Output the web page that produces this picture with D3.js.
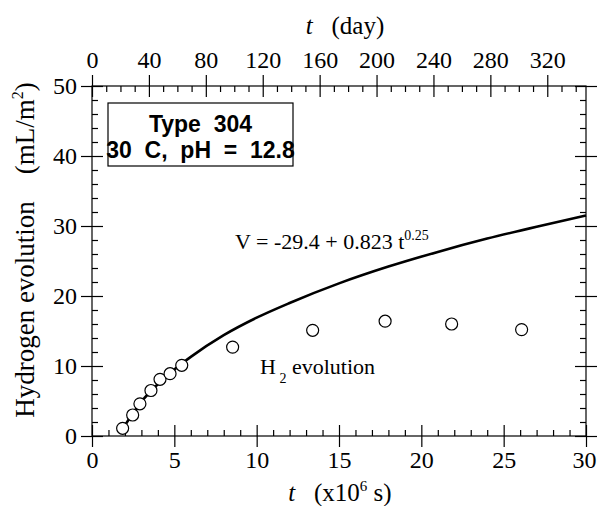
<!DOCTYPE html>
<html>
<head>
<meta charset="utf-8">
<script src="https://cdn.jsdelivr.net/npm/d3@7"></script>
<style>
  body { margin: 0; background: #fff; }
  #wrapper text { font-family: "Liberation Serif", "Times New Roman", serif; fill: #000; }
  .tick text { font-size: 24px; }
  .box-text { font-family: "Liberation Sans", Arial, sans-serif !important; font-weight: bold; font-size: 23px; }
</style>
</head>
<body>
<div id="wrapper"></div>
<script>
// measured points, time in 10^6 s
const timeData = [1.86, 2.47, 2.91, 3.58, 4.13, 4.74, 5.45, 8.54, 13.4, 17.8, 21.84, 26.09]
const h2Data = [1.1, 3.0, 4.6, 6.5, 8.1, 8.9, 10.1, 12.7, 15.1, 16.4, 16.0, 15.2]

// fitted curve
const fitTime = [1.8, 2.5, 3, 4, 5, 6, 8, 10, 12, 15, 18, 21, 24, 27, 30]
const fitV = [0.8, 3.3, 4.9, 7.4, 9.5, 11.3, 14.4, 16.9, 19.0, 21.8, 24.2, 26.3, 28.2, 29.9, 31.5]

// ticks
const xTicks = [0, 5, 10, 15, 20, 25, 30]
const dayTicks = [0, 40, 80, 120, 160, 200, 240, 280, 320]
const yTicks = [0, 10, 20, 30, 40, 50]

function drawChart() {

  // 1. dimensions
  let dimensions = {
    width: 597,
    height: 506,
    margin: { top: 86, right: 11, bottom: 70, left: 92 },
  }
  dimensions.boundedWidth = dimensions.width - dimensions.margin.left - dimensions.margin.right
  dimensions.boundedHeight = dimensions.height - dimensions.margin.top - dimensions.margin.bottom

  const wrapper = d3.select("#wrapper")
    .append("svg")
      .attr("width", dimensions.width)
      .attr("height", dimensions.height)

  const bounds = wrapper.append("g")
      .attr("transform", `translate(${dimensions.margin.left},${dimensions.margin.top})`)

  // 2. scales
  const xScale = d3.scaleLinear()
    .domain([0, 30])
    .range([0, dimensions.boundedWidth])
  const dayScale = d3.scaleLinear()
    .domain([0, 30e6 / 86400])
    .range([0, dimensions.boundedWidth])
  const yScale = d3.scaleLinear()
    .domain([0, 50])
    .range([dimensions.boundedHeight, 0])

  const xMinor = d3.range(0, 31, 1).filter(v => v % 5 != 0)
  const dayMinor = d3.range(0, 347, 10).filter(v => v % 40 != 0)
  const yMinor = d3.range(0, 51, 2).filter(v => v % 10 != 0)

  const major = 11, minor = 6

  // 3. axes (major ticks cross the frame, minor ticks inside)
  const addAxis = (gen, scale, ticks, minorTicks, transform, labels, pad) => {
    const out = bounds.append("g").attr("transform", transform)
      .call(gen(scale).tickValues(ticks).tickSize(major).tickPadding(pad)
        .tickFormat(labels ? d3.format("d") : ""))
    out.select(".domain").remove()
    const inn = bounds.append("g").attr("transform", transform)
      .call(gen(scale).tickValues(ticks).tickSize(-major).tickFormat(""))
    inn.select(".domain").remove()
    const mn = bounds.append("g").attr("transform", transform)
      .call(gen(scale).tickValues(minorTicks).tickSize(-minor).tickFormat(""))
    mn.select(".domain").remove()
    return out
  }
  const xAxis = addAxis(d3.axisBottom, xScale, xTicks, xMinor, `translate(0,${dimensions.boundedHeight})`, true, 4)
  addAxis(d3.axisTop, dayScale, dayTicks, dayMinor, "translate(0,0)", true, 7)
  addAxis(d3.axisLeft, yScale, yTicks, yMinor, "translate(0,0)", true, 4)
  addAxis(d3.axisRight, yScale, yTicks, yMinor, `translate(${dimensions.boundedWidth},0)`, false, 4)

  // keep the last label inside the page
  xAxis.selectAll(".tick text").filter(d => d == 30).attr("dx", -2)

  bounds.selectAll(".tick line").attr("stroke", "#000").attr("stroke-width", 1.2)

  bounds.append("rect")
      .attr("width", dimensions.boundedWidth)
      .attr("height", dimensions.boundedHeight)
      .attr("fill", "none")
      .attr("stroke", "#000")
      .attr("stroke-width", 1.2)

  // 4. fitted line and points
  const lineGen = d3.line()
    .x((d, i) => xScale(fitTime[i]))
    .y(d => yScale(d))
    .curve(d3.curveMonotoneX)

  bounds.append("path")
      .attr("d", lineGen(fitV))
      .attr("fill", "none")
      .attr("stroke", "#000")
      .attr("stroke-width", 2.6)

  bounds.selectAll("circle")
    .data(h2Data)
    .enter().append("circle")
      .attr("cx", (d, i) => xScale(timeData[i]))
      .attr("cy", d => yScale(d))
      .attr("r", 6)
      .attr("fill", "#fff")
      .attr("stroke", "#000")
      .attr("stroke-width", 1.2)

  // 5. labels
  const eq = wrapper.append("text")
      .attr("x", 235).attr("y", 249)
      .style("font-size", "22px")
  eq.append("tspan").text("V = -29.4 + 0.823 t")
  eq.append("tspan").attr("dy", -9).style("font-size", "14px").text("0.25")

  const h2 = wrapper.append("text")
      .attr("x", 260).attr("y", 374)
      .style("font-size", "22px")
  h2.append("tspan").text("H")
  h2.append("tspan").attr("dy", 9).style("font-size", "14px").text(" 2")
  h2.append("tspan").attr("dy", -9).text(" evolution")

  wrapper.append("rect")
      .attr("x", 108).attr("y", 103)
      .attr("width", 185).attr("height", 63)
      .attr("fill", "#fff")
      .attr("stroke", "#000")
      .attr("stroke-width", 1.2)
  wrapper.append("text").attr("class", "box-text")
      .attr("x", 200.5).attr("y", 132)
      .attr("text-anchor", "middle")
      .style("white-space", "pre")
      .text("Type  304")
  wrapper.append("text").attr("class", "box-text")
      .attr("x", 200.5).attr("y", 158)
      .attr("text-anchor", "middle")
      .style("white-space", "pre")
      .text("30  C,  pH  =  12.8")

  const xTitle = wrapper.append("text")
      .attr("x", 340).attr("y", 501)
      .attr("text-anchor", "middle")
      .style("font-size", "25px")
      .style("white-space", "pre")
  xTitle.append("tspan").style("font-style", "italic").text("t")
  xTitle.append("tspan").text("   (x10")
  xTitle.append("tspan").attr("dy", -10).style("font-size", "15px").text("6")
  xTitle.append("tspan").attr("dy", 10).text(" s)")

  const topTitle = wrapper.append("text")
      .attr("x", 345).attr("y", 34)
      .attr("text-anchor", "middle")
      .style("font-size", "25px")
      .style("white-space", "pre")
  topTitle.append("tspan").style("font-style", "italic").text("t")
  topTitle.append("tspan").text("   (day)")

  const yTitle = wrapper.append("text")
      .attr("transform", "translate(34,250) rotate(-90)")
      .attr("text-anchor", "middle")
      .style("font-size", "27px")
      .style("white-space", "pre")
  yTitle.append("tspan").text("Hydrogen evolution    (mL/m")
  yTitle.append("tspan").attr("dy", -11).style("font-size", "16px").text("2")
  yTitle.append("tspan").attr("dy", 11).text(")")
}
drawChart()
</script>
</body>
</html>
